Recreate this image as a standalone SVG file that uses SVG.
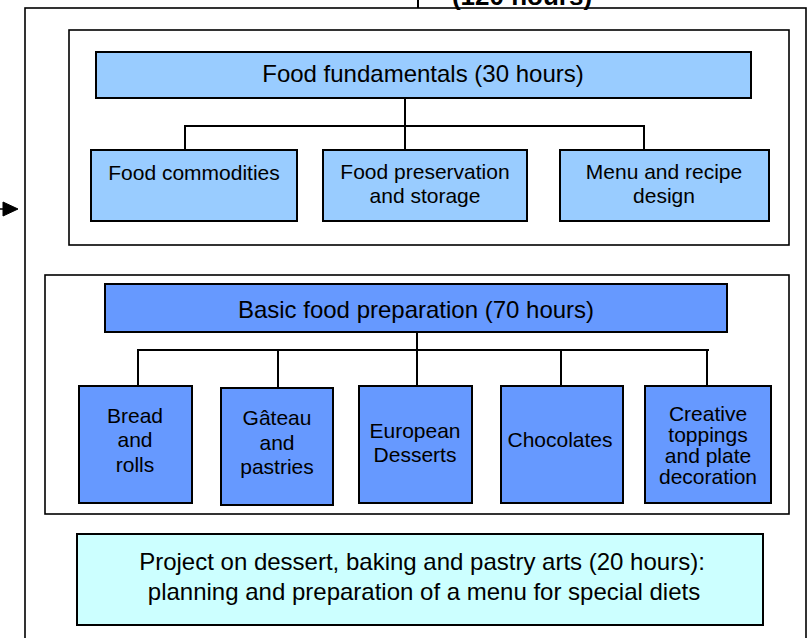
<svg xmlns="http://www.w3.org/2000/svg" width="810" height="638" viewBox="0 0 810 638">
<defs>
<style>
.frame{fill:none;stroke:#000;stroke-width:1.6}
.lt{fill:#99CCFF;stroke:#000;stroke-width:2}
.dk{fill:#6699FF;stroke:#000;stroke-width:2}
.pj{fill:#CCFFFF;stroke:#000;stroke-width:2}
.ln{fill:none;stroke:#000;stroke-width:2}
text{font-family:"Liberation Sans",Arial,sans-serif;fill:#000;text-anchor:middle}
.t24{font-size:24px}
.t21{font-size:21px}
</style>
</defs>
<rect width="810" height="638" fill="#fff"/>
<g id="outer">
<rect class="frame" x="25" y="8" width="781" height="640"/>
<text x="522" y="5" style="font-size:26px;font-weight:bold">(120 hours)</text>
</g>
<g id="frame1"><rect class="frame" x="69" y="30" width="720" height="215"/></g>
<g id="frame2"><rect class="frame" x="45" y="275" width="744" height="239"/></g>
<g id="connectors">
<line class="ln" x1="418" y1="0" x2="418" y2="8"/>
<path d="M0,209 H3 L3,202 L18,209 L3,216 L3,209 Z" fill="#000" stroke="#000" stroke-width="1"/>
<path class="ln" d="M405,98 V126 M185,126 H644 M185,125 V150 M405,126 V150 M644,125 V150"/>
<path class="ln" d="M417,333 V350 M139,350 H709 M138,349 V386 M278,350 V388 M417,350 V386 M561,350 V386 M707,351 V386"/>
</g>
<g id="n-fund"><rect class="lt" x="96" y="52" width="655" height="46"/><text class="t24" x="423" y="82">Food fundamentals (30 hours)</text></g>
<g id="n-comm"><rect class="lt" x="91" y="150" width="206" height="71"/><text class="t21" x="194" y="180">Food commodities</text></g>
<g id="n-pres"><rect class="lt" x="323" y="150" width="204" height="71"/><text class="t21" x="425" y="179">Food preservation</text><text class="t21" x="425" y="203">and storage</text></g>
<g id="n-menu"><rect class="lt" x="560" y="150" width="209" height="71"/><text class="t21" x="664" y="179">Menu and recipe</text><text class="t21" x="664" y="203">design</text></g>
<g id="n-basic"><rect class="dk" x="105" y="284" width="622" height="48"/><text class="t24" x="416" y="318">Basic food preparation (70 hours)</text></g>
<g id="n-bread"><rect class="dk" x="79" y="386" width="113" height="117"/><text class="t21" x="135" y="423">Bread</text><text class="t21" x="135" y="447">and</text><text class="t21" x="135" y="472">rolls</text></g>
<g id="n-gateau"><rect class="dk" x="221" y="388" width="112" height="117"/><text class="t21" x="277" y="425">Gâteau</text><text class="t21" x="277" y="450">and</text><text class="t21" x="277" y="474">pastries</text></g>
<g id="n-euro"><rect class="dk" x="359" y="386" width="113" height="117"/><text class="t21" x="415" y="438">European</text><text class="t21" x="415" y="462">Desserts</text></g>
<g id="n-choc"><rect class="dk" x="501" y="386" width="122" height="117"/><text class="t21" x="560" y="447">Chocolates</text></g>
<g id="n-crea"><rect class="dk" x="645" y="386" width="126" height="117"/><text class="t21" x="708" y="421">Creative</text><text class="t21" x="708" y="442">toppings</text><text class="t21" x="708" y="463">and plate</text><text class="t21" x="708" y="484">decoration</text></g>
<g id="n-proj"><rect class="pj" x="77" y="534" width="686" height="91"/><text class="t24" x="422" y="570">Project on dessert, baking and pastry arts (20 hours):</text><text class="t24" x="424" y="600">planning and preparation of a menu for special diets</text></g>
</svg>
